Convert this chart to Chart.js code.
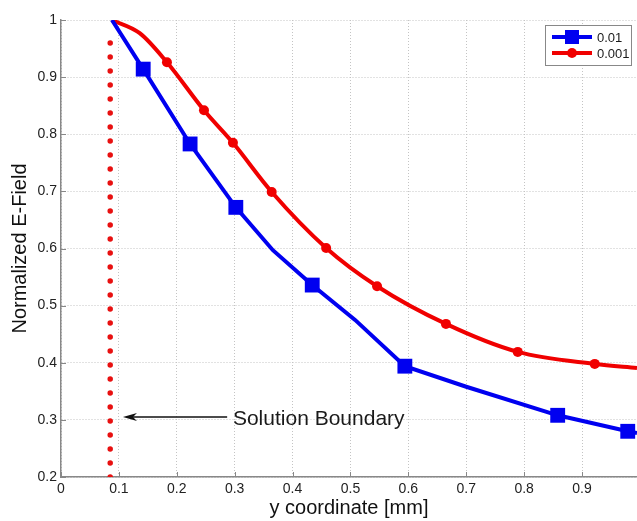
<!DOCTYPE html>
<html>
<head>
<meta charset="utf-8">
<script src="https://cdn.jsdelivr.net/npm/chart.js@4/dist/chart.umd.min.js"></script>
<style>
  body { margin: 0; background: #fff; }
</style>
</head>
<body>
<canvas id="graficoCampo" width="637" height="521"></canvas>
<script>
// dados
const xTicks = [0, 0.1, 0.2, 0.3, 0.4, 0.5, 0.6, 0.7, 0.8, 0.9];
const yTicks = [0.2, 0.3, 0.4, 0.5, 0.6, 0.7, 0.8, 0.9, 1];

const azulX = [0.088, 0.142, 0.223, 0.302, 0.366, 0.434, 0.508, 0.594, 0.70, 0.858, 0.979, 0.995];
const azulY = [1.0, 0.914, 0.783, 0.672, 0.597, 0.536, 0.475, 0.394, 0.358, 0.308, 0.280, 0.277];
const azulMarcador = [false, true, true, true, false, true, false, true, false, true, true, false];

const vermelhoX = [0.088, 0.136, 0.183, 0.247, 0.297, 0.364, 0.458, 0.546, 0.665, 0.789, 0.922, 0.995];
const vermelhoY = [1.0, 0.977, 0.926, 0.842, 0.785, 0.699, 0.601, 0.534, 0.468, 0.419, 0.398, 0.391];
const vermelhoMarcador = [false, false, true, true, true, true, true, true, true, true, true, false];

const fronteiraX = 0.085;
const fronteiraY = [0.2, 0.975];

const legendas = ['0.01', '0.001'];
const textoFronteira = 'Solution Boundary';
const setaInicio = [0.107, 0.305];
const setaFim = [0.287, 0.305];
const textoPos = [0.297, 0.302];

const fonte = '"Liberation Sans", Arial, Helvetica, sans-serif';

function montarPontos(xs, ys) {
    return xs.map((x, i) => ({ x: x, y: ys[i] }));
}

// desenha ticks pra dentro, seta, texto e a legenda estilo matlab
const extras = {
    id: 'extras',
    afterDraw(chart) {
        const ctx = chart.ctx;
        const sx = chart.scales.x;
        const sy = chart.scales.y;
        const area = chart.chartArea;

        ctx.save();
        ctx.strokeStyle = '#888';
        ctx.lineWidth = 1;
        xTicks.forEach(v => {
            const px = Math.round(sx.getPixelForValue(v)) + 0.5;
            ctx.beginPath();
            ctx.moveTo(px, area.bottom);
            ctx.lineTo(px, area.bottom - 5);
            ctx.stroke();
        });
        yTicks.forEach(v => {
            const py = Math.round(sy.getPixelForValue(v)) + 0.5;
            ctx.beginPath();
            ctx.moveTo(area.left, py);
            ctx.lineTo(area.left + 5, py);
            ctx.stroke();
        });

        // seta
        const x1 = sx.getPixelForValue(setaInicio[0]);
        const y1 = sy.getPixelForValue(setaInicio[1]);
        const x2 = sx.getPixelForValue(setaFim[0]);
        ctx.strokeStyle = '#111';
        ctx.fillStyle = '#111';
        ctx.lineWidth = 1.5;
        ctx.beginPath();
        ctx.moveTo(x2, y1);
        ctx.lineTo(x1 + 4, y1);
        ctx.stroke();
        ctx.beginPath();
        ctx.moveTo(x1, y1);
        ctx.lineTo(x1 + 14, y1 - 4);
        ctx.lineTo(x1 + 10, y1);
        ctx.lineTo(x1 + 14, y1 + 4);
        ctx.closePath();
        ctx.fill();

        ctx.font = '21px ' + fonte;
        ctx.fillStyle = '#1a1a1a';
        ctx.textBaseline = 'middle';
        ctx.textAlign = 'left';
        ctx.fillText(textoFronteira, sx.getPixelForValue(textoPos[0]), sy.getPixelForValue(textoPos[1]));

        // legenda
        ctx.fillStyle = '#fff';
        ctx.fillRect(545, 25, 86, 40);
        ctx.strokeStyle = '#888';
        ctx.lineWidth = 1;
        ctx.strokeRect(545.5, 25.5, 86, 40);

        const ds = chart.data.datasets;
        [0, 1].forEach(i => {
            const y = 37 + i * 16;
            ctx.strokeStyle = ds[i].borderColor;
            ctx.fillStyle = ds[i].borderColor;
            ctx.lineWidth = 4;
            ctx.beginPath();
            ctx.moveTo(552, y);
            ctx.lineTo(592, y);
            ctx.stroke();
            if (i === 0) {
                ctx.fillRect(565, y - 7, 14, 14);
            } else {
                ctx.beginPath();
                ctx.arc(572, y, 5, 0, Math.PI * 2);
                ctx.fill();
            }
            ctx.fillStyle = '#1a1a1a';
            ctx.font = '13px ' + fonte;
            ctx.textBaseline = 'middle';
            ctx.fillText(legendas[i], 597, y + 1);
        });
        ctx.restore();
    }
};

const ctxCampo = document.getElementById('graficoCampo');

new Chart(ctxCampo, {
    type: 'line',
    data: {
        datasets: [
            {
                label: legendas[0],
                data: montarPontos(azulX, azulY),
                borderColor: '#0000f0',
                backgroundColor: '#0000f0',
                borderWidth: 4,
                tension: 0,
                pointStyle: 'rect',
                pointRadius: azulMarcador.map(m => m ? 10.5 : 0),
                pointBorderWidth: 0,
                fill: false
            },
            {
                label: legendas[1],
                data: montarPontos(vermelhoX, vermelhoY),
                borderColor: '#f00000',
                backgroundColor: '#f00000',
                borderWidth: 4,
                cubicInterpolationMode: 'monotone',
                pointStyle: 'circle',
                pointRadius: vermelhoMarcador.map(m => m ? 5 : 0),
                pointBorderWidth: 0,
                fill: false
            },
            {
                label: 'fronteira',
                data: fronteiraY.map(y => ({ x: fronteiraX, y: y })),
                borderColor: '#e81010',
                borderWidth: 5.5,
                borderDash: [0, 14],
                borderCapStyle: 'round',
                pointRadius: 0,
                fill: false
            }
        ]
    },
    options: {
        responsive: false,
        animation: false,
        layout: {
            padding: { top: 20, right: 0, left: 0, bottom: 0 }
        },
        plugins: {
            legend: { display: false },
            tooltip: { enabled: false }
        },
        scales: {
            x: {
                type: 'linear',
                min: 0,
                max: 0.995,
                afterFit: s => { s.height = 44; },
                afterBuildTicks: s => { s.ticks = xTicks.map(v => ({ value: v })); },
                ticks: {
                    color: '#222',
                    font: { family: fonte, size: 14 },
                    padding: 4,
                    maxRotation: 0,
                    callback: v => String(Number(v.toFixed(1)))
                },
                grid: { color: '#c4c4c4', lineWidth: 1, drawTicks: false },
                border: { color: '#888', width: 1.5, dash: [1, 2] },
                title: {
                    display: true,
                    text: 'y coordinate [mm]',
                    color: '#111',
                    font: { family: fonte, size: 20 },
                    padding: { top: 0, bottom: 1 }
                }
            },
            y: {
                min: 0.2,
                max: 1,
                afterFit: s => { s.width = 61; },
                afterBuildTicks: s => { s.ticks = yTicks.map(v => ({ value: v })); },
                ticks: {
                    color: '#222',
                    font: { family: fonte, size: 14 },
                    padding: 4,
                    callback: v => String(Number(v.toFixed(1)))
                },
                grid: { color: '#c4c4c4', lineWidth: 1, drawTicks: false },
                border: { color: '#888', width: 1.5, dash: [1, 2] },
                title: {
                    display: true,
                    text: 'Normalized E-Field',
                    color: '#111',
                    font: { family: fonte, size: 20 },
                    padding: { top: 8, bottom: 0 }
                }
            }
        }
    },
    plugins: [extras]
});
</script>
</body>
</html>
